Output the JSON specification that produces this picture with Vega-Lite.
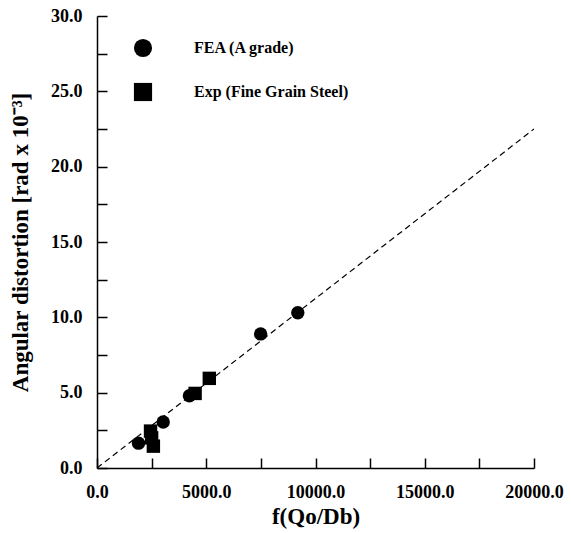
{
  "$schema": "https://vega.github.io/schema/vega-lite/v6.json",
  "width": 437,
  "height": 452,
  "autosize": "none",
  "padding": {"left": 97, "top": 16, "right": 37, "bottom": 65},
  "background": "white",
  "config": {
    "view": {"stroke": null},
    "font": "Liberation Serif"
  },
  "datasets": {
    "pts": [
      {"x": 1900, "y": 1.65, "series": "FEA (A grade)"},
      {"x": 3030, "y": 3.05, "series": "FEA (A grade)"},
      {"x": 4230, "y": 4.8, "series": "FEA (A grade)"},
      {"x": 7490, "y": 8.9, "series": "FEA (A grade)"},
      {"x": 9190, "y": 10.3, "series": "FEA (A grade)"},
      {"x": 2450, "y": 2.45, "series": "Exp (Fine Grain Steel)"},
      {"x": 2500, "y": 2.0, "series": "Exp (Fine Grain Steel)"},
      {"x": 2580, "y": 1.45, "series": "Exp (Fine Grain Steel)"},
      {"x": 4490, "y": 4.95, "series": "Exp (Fine Grain Steel)"},
      {"x": 5140, "y": 5.95, "series": "Exp (Fine Grain Steel)"}
    ],
    "fit": [
      {"x": 0, "y": 0},
      {"x": 20000, "y": 22.5}
    ]
  },
  "resolve": {"axis": {"x": "independent", "y": "independent"}},
  "layer": [
    {
      "data": {"name": "fit"},
      "mark": {"type": "line", "color": "black", "strokeWidth": 1.2, "strokeDash": [6, 4], "clip": true},
      "encoding": {
        "x": {
          "field": "x", "type": "quantitative",
          "scale": {"domain": [0, 20000], "nice": false},
          "axis": {
            "orient": "bottom",
            "title": "f(Qo/Db)",
            "grid": false,
            "ticks": false,
            "domainColor": "black",
            "domainWidth": 1.5,
            "labelFont": "Liberation Serif",
            "labelFontWeight": "bold",
            "labelFontSize": 18,
            "labelColor": "black",
            "titleFont": "Liberation Serif",
            "titleFontWeight": "bold",
            "titleFontSize": 23,
            "titleColor": "black",
            "values": [0, 5000, 10000, 15000, 20000],
            "format": ".1f",
            "labelPadding": 15,
            "labelFlush": false,
            "labelOverlap": false,
            "titlePadding": 4
          }
        },
        "y": {
          "field": "y", "type": "quantitative",
          "scale": {"domain": [0, 30], "nice": false},
          "axis": {
            "orient": "left",
            "title": "Angular distortion [rad x 10⁻³]",
            "grid": false,
            "ticks": false,
            "domainColor": "black",
            "domainWidth": 1.5,
            "labelFont": "Liberation Serif",
            "labelFontWeight": "bold",
            "labelFontSize": 18,
            "labelColor": "black",
            "titleFont": "Liberation Serif",
            "titleFontWeight": "bold",
            "titleFontSize": 23,
            "titleColor": "black",
            "values": [0, 5, 10, 15, 20, 25, 30],
            "format": ".1f",
            "labelPadding": 15,
            "labelFlush": false,
            "labelOverlap": false,
            "titlePadding": 18
          }
        }
      }
    },
    {
      "data": {"name": "pts"},
      "mark": {"type": "point", "filled": true, "opacity": 1, "color": "black", "size": 180},
      "encoding": {
        "x": {
          "field": "x", "type": "quantitative",
          "axis": {
            "orient": "bottom",
            "title": null,
            "grid": false,
            "domain": false,
            "labels": false,
            "tickColor": "black",
            "tickWidth": 1.5,
            "values": [0, 2500, 5000, 7500, 10000, 12500, 15000, 17500, 20000],
            "tickSize": -10
          }
        },
        "y": {
          "field": "y", "type": "quantitative",
          "axis": {
            "orient": "left",
            "title": null,
            "grid": false,
            "domain": false,
            "labels": false,
            "tickColor": "black",
            "tickWidth": 1.5,
            "values": [0, 2.5, 5, 7.5, 10, 12.5, 15, 17.5, 20, 22.5, 25, 27.5, 30],
            "tickSize": -10
          }
        },
        "shape": {
          "field": "series", "type": "nominal",
          "scale": {"domain": ["FEA (A grade)", "Exp (Fine Grain Steel)"], "range": ["circle", "square"]},
          "legend": {
            "title": null,
            "orient": "none",
            "legendX": 36,
            "legendY": 22,
            "symbolSize": 330,
            "symbolFillColor": "black",
            "symbolStrokeColor": "black",
            "labelFont": "Liberation Serif",
            "labelFontWeight": "bold",
            "labelFontSize": 16,
            "labelColor": "black",
            "labelOffset": 41,
            "rowPadding": 18
          }
        }
      }
    }
  ]
}
